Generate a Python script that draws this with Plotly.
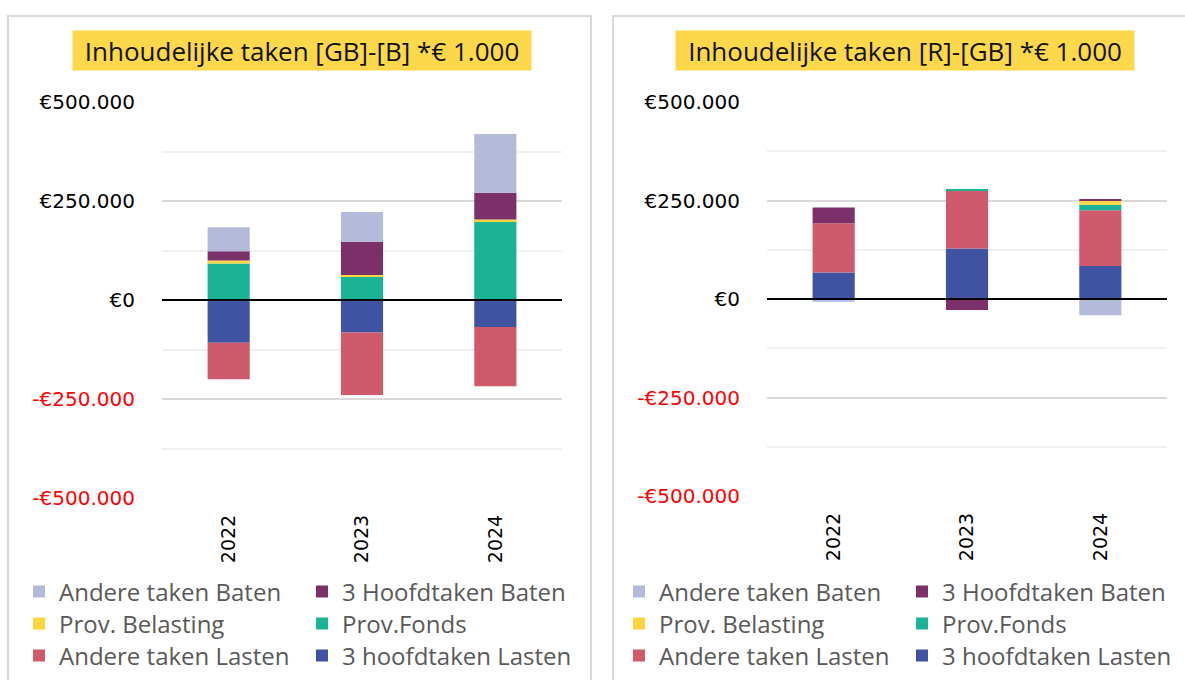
import plotly.graph_objects as go

W, H = 1185, 680

years = ["2022", "2023", "2024"]

series_names = [
    "3 hoofdtaken Lasten",
    "Andere taken Lasten",
    "Prov.Fonds",
    "Prov. Belasting",
    "3 Hoofdtaken Baten",
    "Andere taken Baten",
]
series_colors = ["#4053A2", "#CE5A6B", "#1BB395", "#FCD53F", "#7B306A", "#B4BADA"]

# left chart: [GB]-[B]
left_hoofd_lasten = [-108000, -82000, -68000]
left_andere_lasten = [-92000, -158000, -150000]
left_prov_fonds = [92000, 60000, 199000]
left_prov_bel = [8000, 3000, 4000]
left_hoofd_baten = [23000, 84000, 68000]
left_andere_baten = [61000, 75000, 148000]

# right chart: [R]-[GB]
right_hoofd_lasten = [67000, 128000, 84000]
right_andere_lasten = [125000, 147000, 141000]
right_prov_fonds = [0, 4000, 14000]
right_prov_bel = [0, 0, 10000]
right_hoofd_baten = [40000, -28000, 4000]
right_andere_baten = [-7000, 0, -41000]

titles = ["Inhoudelijke taken [GB]-[B] *€ 1.000", "Inhoudelijke taken [R]-[GB] *€ 1.000"]

tick_vals = [-500000, -250000, 0, 250000, 500000]
tick_text = [
    "<span style='color:#FF0000'>-€500.000</span>",
    "<span style='color:#FF0000'>-€250.000</span>",
    "€0",
    "€250.000",
    "€500.000",
]

left_data = [left_hoofd_lasten, left_andere_lasten, left_prov_fonds,
             left_prov_bel, left_hoofd_baten, left_andere_baten]
right_data = [right_hoofd_lasten, right_andere_lasten, right_prov_fonds,
              right_prov_bel, right_hoofd_baten, right_andere_baten]

def px(x):
    return x / W

def py(y):
    return 1 - y / H

fig = go.Figure()

# legend rows: row1: Andere taken Baten, 3 Hoofdtaken Baten ; row2: Prov. Belasting, Prov.Fonds ;
# row3: Andere taken Lasten, 3 hoofdtaken Lasten
row_of = {5: 0, 4: 0, 3: 1, 2: 1, 1: 2, 0: 2}

for panel, (data, xa, ya) in enumerate([(left_data, "x", "y"), (right_data, "x2", "y2")]):
    for i, (name, col, vals) in enumerate(zip(series_names, series_colors, data)):
        leg_idx = panel * 3 + row_of[i] + 1
        leg = "legend" if leg_idx == 1 else f"legend{leg_idx}"
        fig.add_trace(go.Bar(
            x=years, y=vals, name=name, marker=dict(color=col, line=dict(width=0)),
            xaxis=xa, yaxis=ya, legend=leg, showlegend=True,
        ))

axis_common_y = dict(
    range=[-500000, 500000], tickvals=tick_vals, ticktext=tick_text,
    showgrid=True, gridcolor="#D9D9D9", gridwidth=1.5,
    minor=dict(dtick=125000, tick0=0, showgrid=True, gridcolor="#F0F0F0", gridwidth=1.5),
    zeroline=False, showline=False, ticks="", ticklabelstandoff=26,
    tickfont=dict(family="DejaVu Sans", size=20, color="#000000"),
)
axis_common_x = dict(
    tickangle=-90, ticks="", showline=False, showgrid=False,
    tickfont=dict(family="DejaVu Sans", size=19, color="#000000"),
    ticklabelstandoff=12,
)

fig.update_layout(
    width=W, height=H,
    margin=dict(l=0, r=0, t=0, b=0, autoexpand=False),
    paper_bgcolor="white", plot_bgcolor="white",
    barmode="relative", bargap=0.684,
    xaxis=dict(domain=[px(162), px(562)], anchor="y", **axis_common_x),
    yaxis=dict(domain=[py(498), py(102)], anchor="x", **axis_common_y),
    xaxis2=dict(domain=[px(767), px(1167)], anchor="y2", **axis_common_x),
    yaxis2=dict(domain=[py(496), py(102)], anchor="x2", **axis_common_y),
    showlegend=True,
)

leg_font = dict(family="Open Sans", size=24, color="#595959")
row_y = [592, 624, 656]
leg_x = [19, 619]
for panel in range(2):
    for r in range(3):
        idx = panel * 3 + r + 1
        key = "legend" if idx == 1 else f"legend{idx}"
        fig.update_layout({key: dict(
            orientation="h", x=px(leg_x[panel]), y=py(row_y[r]),
            xanchor="left", yanchor="middle", traceorder="reversed",
            entrywidth=238, entrywidthmode="pixels", font=leg_font,
            bgcolor="rgba(0,0,0,0)", itemclick=False, itemdoubleclick=False,
        )})

# cards
fig.add_shape(type="rect", xref="paper", yref="paper", x0=px(8), x1=px(591), y0=py(16), y1=-0.2,
              line=dict(color="#D9D9D9", width=2), fillcolor="rgba(0,0,0,0)", layer="below")
fig.add_shape(type="rect", xref="paper", yref="paper", x0=px(613), x1=1.2, y0=py(16), y1=-0.2,
              line=dict(color="#D9D9D9", width=2), fillcolor="rgba(0,0,0,0)", layer="below")

# zero lines on top
for xr, yr in [("x domain", "y"), ("x2 domain", "y2")]:
    fig.add_shape(type="line", xref=xr, yref=yr, x0=0, x1=1, y0=0, y1=0,
                  line=dict(color="#000000", width=2), layer="above")

# titles
for cx, t in zip([302, 905], titles):
    fig.add_annotation(
        x=px(cx), y=py(50.5), xref="paper", yref="paper", text=t, showarrow=False,
        xanchor="center", yanchor="middle", bgcolor="#FCD84A",
        width=456, height=37, font=dict(family="Open Sans", size=26, color="#111111"),
    )

fig.write_html("out.html", config={"displayModeBar": False},
               post_script="document.body.style.margin='0px';")
